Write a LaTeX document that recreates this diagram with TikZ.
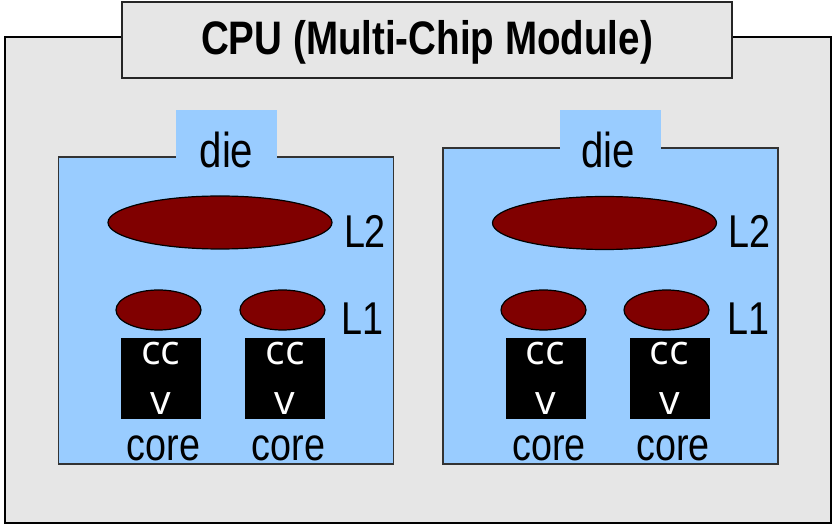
\documentclass[tikz,border=0pt]{standalone}
\usepackage{fontspec}
\usepackage{xcolor}
\usepackage{tikz}
\usetikzlibrary{shapes.geometric, positioning}
\newfontfamily\estrecha[FakeStretch=0.82]{Liberation Sans}
\newfontfamily\nucleofont{Open Sans}
\definecolor{gris}{RGB}{230,230,230}
\definecolor{dieazul}{RGB}{153,204,255}
\definecolor{cache}{RGB}{128,0,0}
\tikzset{
  modulo/.style={rectangle, draw=black, fill=gris, line width=2.4pt,
    inner sep=0pt, minimum width=826pt, minimum height=486pt},
  titulo/.style={rectangle, draw=black!85, fill=gris, line width=1.4pt,
    inner sep=0pt, minimum width=610pt, minimum height=76pt,
    text height=34pt, text depth=4pt,
    font=\estrecha\bfseries\fontsize{47}{50}\selectfont},
  chip/.style={rectangle, draw=black!80, fill=dieazul, line width=1.3pt,
    inner sep=0pt, minimum width=335pt},
  pestana/.style={rectangle, fill=dieazul, inner sep=0pt, minimum width=101pt},
  cachedos/.style={ellipse, draw=black, fill=cache, line width=1.2pt,
    inner sep=0pt, minimum width=224pt, minimum height=53pt},
  cacheuno/.style={ellipse, draw=black, fill=cache, line width=1.2pt,
    inner sep=0pt, minimum width=85pt, minimum height=40pt},
  nucleo/.style={rectangle, fill=black, text=white, inner sep=0pt,
    minimum width=80pt, minimum height=81pt, align=center,
    font=\nucleofont\fontsize{41}{50}\selectfont},
  etiq/.style={anchor=base, inner sep=0pt,
    font=\estrecha\fontsize{46}{50}\selectfont},
  etiqdie/.style={etiq, font=\estrecha\fontsize{49}{52}\selectfont}
}
\begin{document}
\begin{tikzpicture}[x=1pt, y=-1pt]
  \useasboundingbox (0,0) rectangle (835,526);
  % module and title
  \node[modulo] (cpu) at (418,280) {};
  \node[titulo] (tit) at (427,40) {CPU (Multi-Chip Module)};
  % left die
  \node[chip, minimum height=307pt] (dieA) at (226,310.5) {};
  \node[pestana, minimum height=49pt] (tabA) at (226.5,134.5) {};
  \node[etiqdie] (nomA) at (226.5,168) {die};
  \node[cachedos] (ldosA) at (220,222.5) {};
  \node[etiq] (tdosA) at (365,248) {L2};
  \node[cacheuno] (lunoA) at (158.5,310) {};
  \node[cacheuno] (lunoB) at (282.5,310) {};
  \node[etiq] (tunoA) at (362.5,335) {L1};
  \node[nucleo] (nucA) at (161,378.5) {cc\\v};
  \node[nucleo] (nucB) at (285,378.5) {cc\\v};
  \node[etiq] (coreA) at (163.5,460) {core};
  \node[etiq] (coreB) at (288.5,460) {core};
  % right die
  \node[chip, minimum height=316pt] (dieB) at (610.5,306) {};
  \node[pestana, minimum height=40pt] (tabB) at (610.5,130) {};
  \node[etiqdie] (nomB) at (608,168) {die};
  \node[cachedos] (ldosB) at (604.5,223) {};
  \node[etiq] (tdosB) at (749.5,248) {L2};
  \node[cacheuno] (lunoC) at (543.5,310) {};
  \node[cacheuno] (lunoD) at (666.5,310) {};
  \node[etiq] (tunoB) at (748,335) {L1};
  \node[nucleo] (nucC) at (545.5,378.5) {cc\\v};
  \node[nucleo] (nucD) at (669.5,378.5) {cc\\v};
  \node[etiq] (coreC) at (549,460) {core};
  \node[etiq] (coreD) at (673,460) {core};
\end{tikzpicture}
\end{document}
